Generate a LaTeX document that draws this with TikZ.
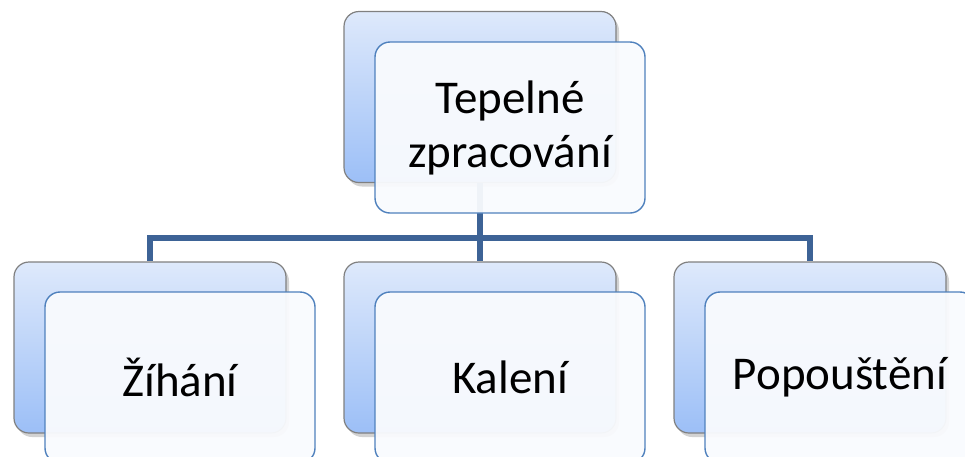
\documentclass[tikz,border=0pt]{standalone}
\usepackage{fontspec}
\setmainfont{Carlito}
\usetikzlibrary{shadows}
\definecolor{conncol}{RGB}{61,99,150}
\definecolor{backtop}{RGB}{222,233,251}
\definecolor{backbot}{RGB}{156,191,247}
\definecolor{backdraw}{RGB}{128,128,128}
\definecolor{frontfill}{RGB}{249,251,254}
\definecolor{frontdraw}{RGB}{79,129,189}
\tikzset{
  backbox/.style={rectangle, rounded corners=15pt, minimum width=272pt, minimum height=171pt, inner sep=0pt,
    top color=backtop, bottom color=backbot, draw=backdraw, line width=1.2pt,
    drop shadow={shadow xshift=3pt, shadow yshift=-4pt, opacity=0.35}},
  frontbox/.style={rectangle, rounded corners=15pt, minimum width=270pt, minimum height=171pt, inner sep=0pt,
    fill=frontfill, fill opacity=0.95, text opacity=1, draw=frontdraw, line width=1.4pt,
    align=center, font=\fontsize{47}{54}\selectfont},
  conn/.style={draw=conncol, line width=6pt}
}
\begin{document}
\begin{tikzpicture}[x=1pt,y=-1pt]
\useasboundingbox (0,0) rectangle (965,456);
\clip (0,0) rectangle (965,456);
\fill[white] (0,0) rectangle (965,456);
\coordinate (bus) at (0,238);
% back boxes
\node[backbox] (tb) at (480,97) {};
\node[backbox] (lb) at (150,347.5) {};
\node[backbox] (mb) at (480,347.5) {};
\node[backbox] (rb) at (810,347.5) {};
% connectors
\draw[conn] (tb.south) |- (lb.north |- bus) -- (lb.north);
\draw[conn] (tb.south) |- (rb.north |- bus) -- (rb.north);
\draw[conn] (tb.south) -- (mb.north);
% front boxes
\node[frontbox] (tf) at (510,127.5) {Tepelné\\zpracování};
\node[frontbox] (lf) at (180,377.5) {Žíhání};
\node[frontbox] (mf) at (510,377.5) {Kalení};
\node[frontbox] (rf) at (840,377.5) {Popouštění};
\end{tikzpicture}
\end{document}
